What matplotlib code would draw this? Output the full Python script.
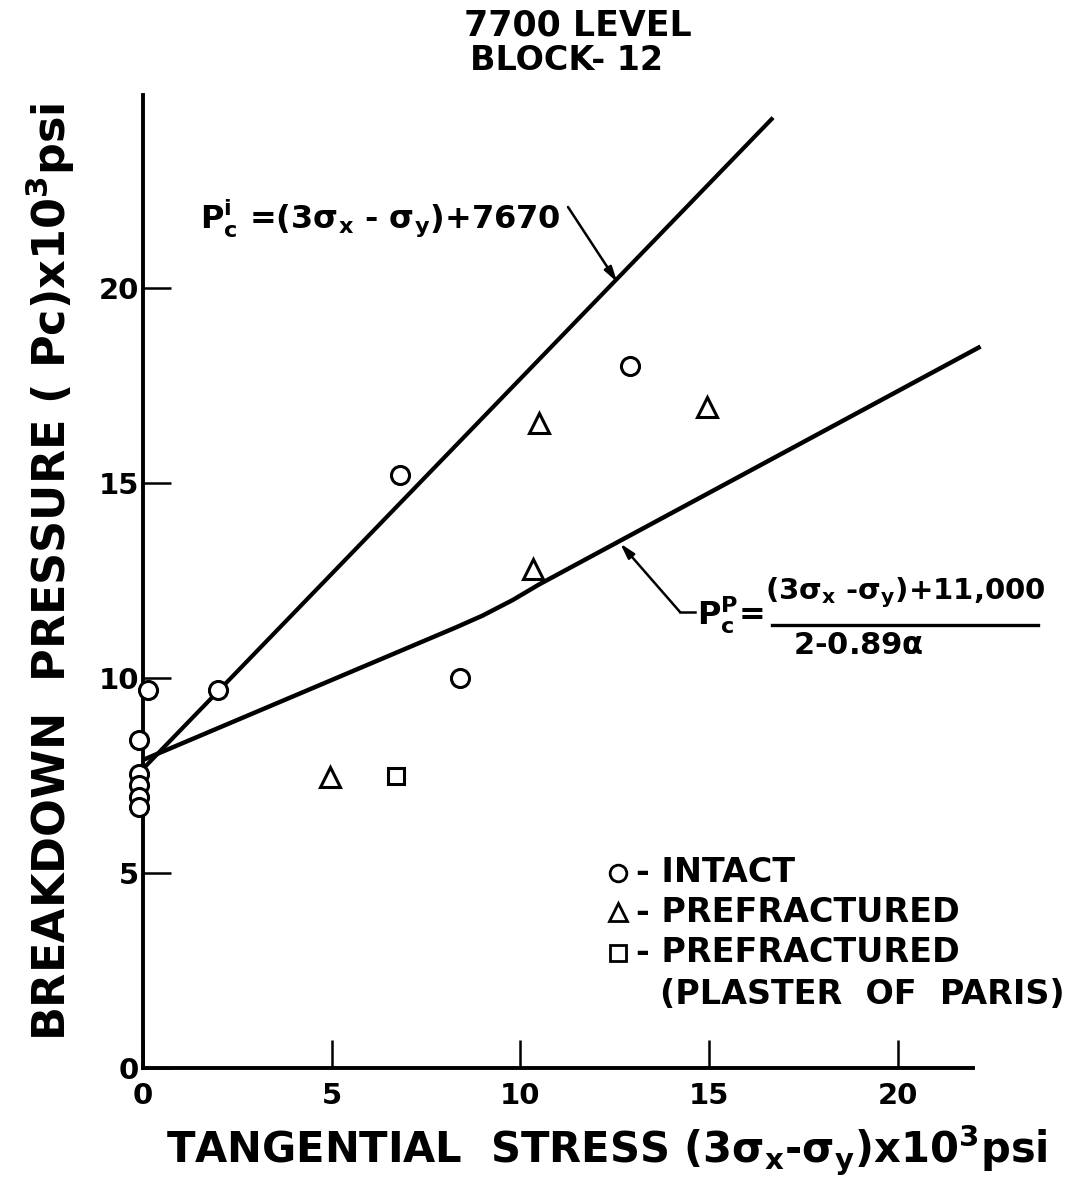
import matplotlib
matplotlib.use("Agg")
import matplotlib.pyplot as plt
from matplotlib.lines import Line2D

# ---------------- data ----------------
intact_x = [0.13, -0.1, -0.1, -0.1, -0.1, -0.1, 2.0, 6.8, 8.4, 12.9]
intact_y = [9.7, 8.4, 7.55, 7.25, 6.95, 6.7, 9.7, 15.2, 10.0, 18.0]
prefrac_x = [4.95, 10.35, 10.5, 14.95]
prefrac_y = [7.45, 12.8, 16.55, 16.95]
plaster_x = [6.7]
plaster_y = [7.5]

upper_x = [0.0, 16.7]
upper_y = [7.67, 24.37]
lower_x = [0.0, 8.3, 9.0, 9.8, 10.5, 22.2]
lower_y = [7.9, 11.3, 11.6, 12.0, 12.4, 18.5]

x_ticks = [0, 5, 10, 15, 20]
y_ticks = [0, 5, 10, 15, 20]
x_ticklabels = ["0", "5", "10", "15", "20"]
y_ticklabels = ["0", "5", "10", "15", "20"]

# ---------------- style ----------------
plt.rcParams["font.family"] = ["DejaVu Sans"]
plt.rcParams["font.weight"] = "bold"
plt.rcParams["mathtext.default"] = "regular"

W, H = 1092, 1188
fig = plt.figure(figsize=(W / 100, H / 100), dpi=100)


def fx(px):
    return px / W


def fy(py):
    return 1 - py / H


ax = fig.add_axes([fx(143), fy(1068), fx(973) - fx(143), fy(95) - fy(1068)])
ax.set_xlim(0, 22.0)
ax.set_ylim(0, 24.95)
for s in ["top", "right"]:
    ax.spines[s].set_visible(False)
for s in ["left", "bottom"]:
    ax.spines[s].set_linewidth(2.8)

ax.set_xticks(x_ticks)
ax.set_xticklabels(x_ticklabels)
ax.set_yticks(y_ticks)
ax.set_yticklabels(y_ticklabels)
ax.tick_params(axis="both", direction="in", length=20, width=1.8, labelsize=21)
ax.tick_params(axis="x", pad=10)
ax.tick_params(axis="y", pad=3)

# lines
ax.plot(upper_x, upper_y, color="black", lw=3.0, clip_on=False, solid_capstyle="butt")
ax.plot(lower_x, lower_y, color="black", lw=3.2, clip_on=False, solid_capstyle="butt")

# points
mk = dict(linestyle="none", markerfacecolor="white", markeredgecolor="black",
          markeredgewidth=2.2, clip_on=False, zorder=5)
ax.plot(intact_x, intact_y, marker="o", markersize=13, **mk)
ax.plot(prefrac_x, prefrac_y, marker="^", markersize=15, **mk)
ax.plot(plaster_x, plaster_y, marker="s", markersize=11, **mk)

# title
fig.text(fx(578), fy(25), "7700 LEVEL", ha="center", va="center", fontsize=25)
fig.text(fx(567), fy(60), "BLOCK- 12", ha="center", va="center", fontsize=24)

# axis labels
fig.text(fx(50), fy(572), "BREAKDOWN  PRESSURE ( Pc)x10$^3$psi", rotation=90,
         ha="center", va="center", fontsize=32)
fig.text(fx(607), fy(1150), r"TANGENTIAL  STRESS (3$\sigma_x$-$\sigma_y$)x10$^3$psi",
         ha="center", va="center", fontsize=30)

# upper formula
fig.text(fx(200), fy(218), r"$P_c^i$ =(3$\sigma_x$ - $\sigma_y$)+7670",
         ha="left", va="center", fontsize=23)
ax.annotate("", xy=(12.57, 20.15), xycoords="data",
            xytext=(fx(568), fy(207)), textcoords="figure fraction",
            arrowprops=dict(arrowstyle="-|>,head_length=0.9,head_width=0.25",
                            color="black", lw=1.8, shrinkA=0, shrinkB=0))

# lower formula
fig.add_artist(Line2D([fx(680), fx(695)], [fy(612), fy(612)], color="black", lw=1.8))
ax.annotate("", xy=(12.65, 13.45), xycoords="data",
            xytext=(fx(680), fy(612)), textcoords="figure fraction",
            arrowprops=dict(arrowstyle="-|>,head_length=0.9,head_width=0.25",
                            color="black", lw=1.8, shrinkA=0, shrinkB=0))
fig.text(fx(697), fy(615), r"$P_c^P$=", ha="left", va="center", fontsize=23)
fig.text(fx(905), fy(593), r"(3$\sigma_x$ -$\sigma_y$)+11,000", ha="center",
         va="center", fontsize=21)
fig.add_artist(Line2D([fx(772), fx(1038)], [fy(625), fy(625)], color="black", lw=2.4))
fig.text(fx(858), fy(645), r"2-0.89$\alpha$", ha="center", va="center", fontsize=22)

# legend
leg_items = [("o", 12, 873, "INTACT"), ("^", 13, 912, "PREFRACTURED"),
             ("s", 11, 953, "PREFRACTURED")]
for m, ms, py, label in leg_items:
    fig.add_artist(Line2D([fx(618)], [fy(py)], marker=m, markersize=ms,
                          markerfacecolor="white", markeredgecolor="black",
                          markeredgewidth=2.0, linestyle="none"))
    fig.text(fx(636), fy(py), "- " + label, ha="left", va="center", fontsize=24)
fig.text(fx(660), fy(994), "(PLASTER  OF  PARIS)", ha="left", va="center", fontsize=24)

fig.savefig("out.png", dpi=100, facecolor="white")
